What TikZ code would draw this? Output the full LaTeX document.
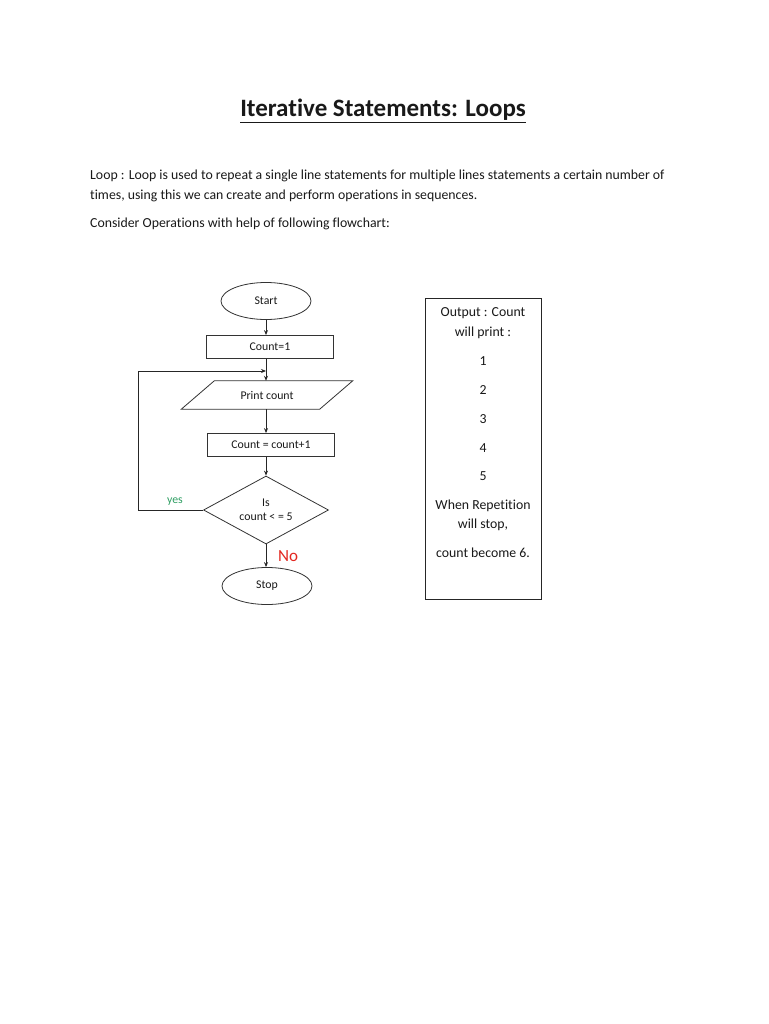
\documentclass[tikz,border=0pt]{standalone}
\usepackage{fontspec}
\setmainfont{Carlito}[Ligatures={NoCommon}]
\usepackage{tikz}
\usetikzlibrary{positioning,shapes.geometric,arrows.meta}
\usepackage{xcolor}
\definecolor{yesgreen}{HTML}{2E9E62}
\definecolor{nored}{HTML}{E3261F}

\begin{document}
\begin{tikzpicture}[
    x=1pt,y=-1pt,
    every node/.style={font=\fontsize{11.8}{13}\selectfont,text=black!90},
    body/.style={font=\fontsize{13.8}{16}\selectfont,anchor=base west,inner sep=0},
    shp/.style={draw=black!80,line width=0.8pt},
    term/.style={ellipse,shp,minimum width=90pt,minimum height=37pt,inner sep=0},
    proc/.style={rectangle,shp,minimum width=127pt,minimum height=23pt,inner sep=0},
    iobox/.style={rectangle,minimum width=138pt,minimum height=28pt,inner sep=0},
    cond/.style={diamond,shp,aspect=1.84,minimum width=125pt,minimum height=68pt,inner sep=0,align=center},
    flow/.style={black!85,line width=0.8pt,-{Stealth[length=5pt,width=4pt]}},
    outline/.style={font=\fontsize{13.8}{16}\selectfont,inner sep=0,anchor=base},
  ]
  \useasboundingbox[fill=white] (0,0) rectangle (768,1024);

  % heading and text
  \node[font=\fontsize{25}{28}\selectfont\bfseries,anchor=base,inner sep=0] (title) at (383,117)
    {\underline{Iterative Statements: Loops}};
  \node[body] (l1) at (90,180)
    {Loop : Loop is used to repeat a single line statements for multiple lines statements a certain number of};
  \node[body] (l2) at (90,200) {times, using this we can create and perform operations in sequences.};
  \node[body] (l3) at (90,228) {Consider Operations with help of following flowchart:};

  % flowchart
  \node[term]  (start) at (266,301) {Start};
  \node[proc]  (cnt1)  at (270,347) {Count=1};
  \node[iobox] (prt)   at (267,395) {Print count};
  \draw[shp] ([xshift=-16.5pt]prt.south west) -- ([xshift=16.5pt]prt.north west)
    -- ([xshift=16.5pt]prt.north east) -- ([xshift=-16.5pt]prt.south east) -- cycle;
  \node[proc]  (inc)   at (271,445) {Count = count+1};
  \node[cond]  (dec)   at (266,510) {Is\\[1pt]count {<} = 5};
  \node[term]  (stop)  at (267,586) {Stop};

  \coordinate (join) at (266,371);
  \coordinate (back) at (138,510);

  \draw[flow] (start.south) -- (start.south |- cnt1.north);
  \draw[flow] (start.south |- cnt1.south) -- (start.south |- prt.north);
  \draw[flow] (start.south |- prt.south) -- (start.south |- inc.north);
  \draw[flow] (start.south |- inc.south) -- (dec.north);
  \draw[flow] (dec.south) -- (dec.south |- stop.north);
  \draw[flow] (dec.west) -- (dec.west -| back) |- (join);

  \node[text=yesgreen,anchor=base] (yes) at (175,503) {yes};
  \node[text=nored,font=\fontsize{17}{20}\selectfont,anchor=base] (no) at (288,561) {No};

  % output box
  \node[draw=black!85,line width=0.8pt,minimum width=116pt,minimum height=301pt,inner sep=0] (out) at (483,449) {};
  \foreach \yy/\txt in {316/{Output : Count},336/{will print :},365/1,394/2,423/3,452/4,480/5,
      509/{When Repetition},528/{will stop,},557/{count become 6.}} {
    \node[outline] at (483,\yy) {\txt};
  }
\end{tikzpicture}
\end{document}
